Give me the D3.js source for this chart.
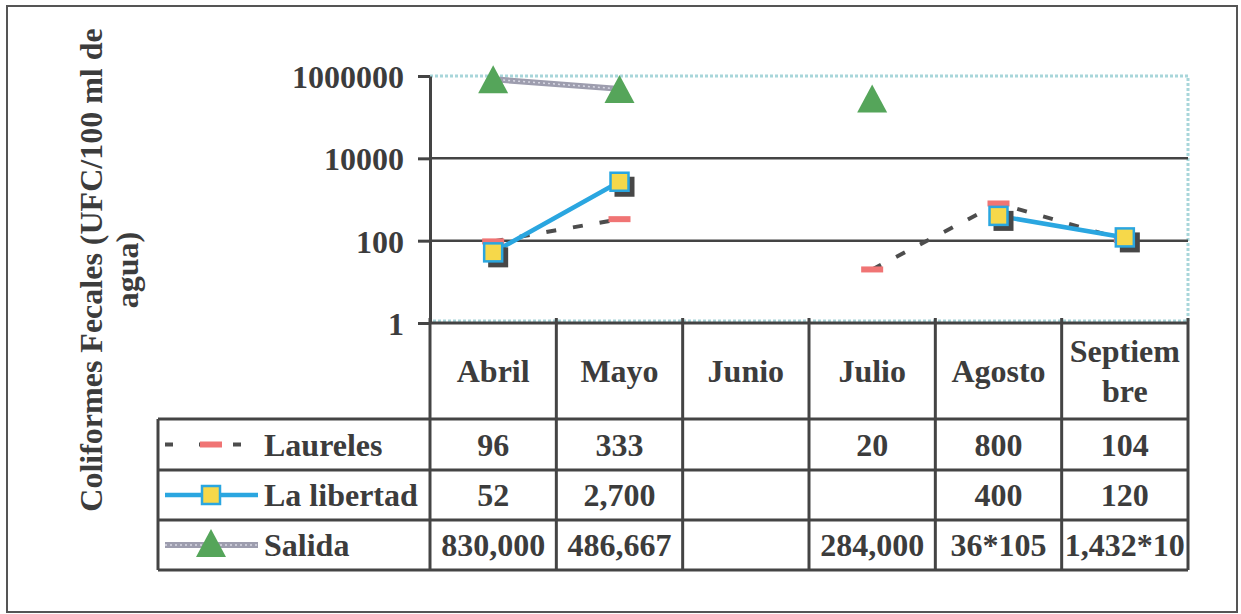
<!DOCTYPE html>
<html>
<head>
<meta charset="utf-8">
<script src="https://cdn.jsdelivr.net/npm/d3@7"></script>
<style>
  html, body { margin: 0; padding: 0; background: #ffffff; }
</style>
</head>
<body>
<svg id="chart" width="1241" height="614"></svg>
<script>
// ---- data ----
const months = ["Abril", "Mayo", "Junio", "Julio", "Agosto", "Septiembre"];
const monthHeaderLines = [["Abril"], ["Mayo"], ["Junio"], ["Julio"], ["Agosto"], ["Septiem", "bre"]];
const seriesNames = ["Laureles", "La libertad", "Salida"];
const laureles = [96, 333, null, 20, 800, 104];
const laLibertad = [52, 2700, null, null, 400, 120];
const salida = [830000, 486667, null, 284000, null, null];
const laurelesLabels = ["96", "333", "", "20", "800", "104"];
const laLibertadLabels = ["52", "2,700", "", "", "400", "120"];
const salidaLabels = ["830,000", "486,667", "", "284,000", "36*105", "1,432*10"];
const yTicks = [1, 100, 10000, 1000000];
const yTitleLines = ["Coliformes Fecales (UFC/100 ml de", "agua)"];

// ---- pick an installed serif font ----
function pickSerif() {
  const cands = ["Liberation Serif", "Tinos", "Times New Roman", "Times", "DejaVu Serif", "Noto Serif", "FreeSerif"];
  const c = document.createElement("canvas").getContext("2d");
  const s = "Coliformes 1000000 Wgijl";
  const w = (f) => { c.font = "bold 30px " + f; return c.measureText(s).width; };
  for (const f of cands) {
    const a = w(`"${f}", monospace`), b = w(`"${f}", sans-serif`);
    if (Math.abs(a - b) < 0.01) return `"${f}"`;
  }
  return "serif";
}
const FONT = pickSerif() + ", serif";
const FS = 32;

// ---- layout ----
const svg = d3.select("#chart");
const plotLeft = 430, plotRight = 1188, plotTop = 76, plotBottom = 323;
const tableLeft = 158;
const rowEdges = [323, 419, 470, 520, 570];
const ink = "#444444";
const txt = "#3c3c3c";

const x = d3.scaleBand().domain(months).range([plotLeft, plotRight]);
const y = d3.scaleLog().domain([1, 1e6]).range([plotBottom, plotTop]);
const cx = (i) => x(months[i]) + x.bandwidth() / 2;

const styleText = (sel) => sel.attr("font-family", FONT).attr("font-weight", "bold")
  .attr("font-size", FS).attr("fill", txt);

// outer frame
svg.append("rect").attr("x", 7).attr("y", 6).attr("width", 1230).attr("height", 606)
  .attr("fill", "none").attr("stroke", "#555").attr("stroke-width", 2);

// plot area dotted border
svg.append("path")
  .attr("d", `M${plotLeft},${plotTop}H${plotRight}V${plotBottom - 2}H${plotLeft}`)
  .attr("fill", "none").attr("stroke", "#a8d6da").attr("stroke-width", 3)
  .attr("stroke-dasharray", "3,2");

// gridlines
svg.append("g").selectAll("line").data(yTicks.filter(t => t !== 1 && t !== 1e6)).join("line")
  .attr("x1", plotLeft).attr("x2", plotRight)
  .attr("y1", d => y(d)).attr("y2", d => y(d))
  .attr("stroke", ink).attr("stroke-width", 2.5);

// y axis
const yAxis = svg.append("g").attr("transform", `translate(${plotLeft},0)`)
  .call(d3.axisLeft(y).tickValues(yTicks).tickFormat(d3.format("d")).tickSize(12).tickSizeOuter(0).tickPadding(14));
yAxis.select(".domain").attr("stroke", ink).attr("stroke-width", 3);
yAxis.selectAll(".tick line").attr("stroke", ink).attr("stroke-width", 3);
yAxis.selectAll(".tick text").call(styleText).attr("dy", "0.36em");

// y title
const yTitle = svg.append("text").attr("transform", "translate(0,270) rotate(-90)")
  .attr("text-anchor", "middle").call(styleText);
yTitle.selectAll("tspan").data(yTitleLines).join("tspan")
  .attr("x", 0).attr("y", (d, i) => 102 + i * 36).text(d => d);

// ---- table ----
const table = svg.append("g");
table.selectAll("line.h").data(rowEdges).join("line").attr("class", "h")
  .attr("x1", (d, i) => i === 0 ? plotLeft : tableLeft).attr("x2", plotRight)
  .attr("y1", d => d).attr("y2", d => d)
  .attr("stroke", ink).attr("stroke-width", 3);
const colEdges = months.map(m => x(m)).concat([plotRight]);
table.selectAll("line.v").data(colEdges).join("line").attr("class", "v")
  .attr("x1", d => d).attr("x2", d => d)
  .attr("y1", plotBottom - 5).attr("y2", rowEdges[4])
  .attr("stroke", ink).attr("stroke-width", 3);
table.append("line").attr("x1", tableLeft).attr("x2", tableLeft)
  .attr("y1", rowEdges[1]).attr("y2", rowEdges[4]).attr("stroke", ink).attr("stroke-width", 3);

// header text
monthHeaderLines.forEach((lines, i) => {
  const mid = (rowEdges[0] + rowEdges[1]) / 2;
  const t = table.append("text").attr("text-anchor", "middle").call(styleText);
  lines.forEach((ln, k) => {
    t.append("tspan").attr("x", cx(i))
      .attr("y", mid + (k - (lines.length - 1) / 2) * 40).attr("dy", "0.35em").text(ln);
  });
});

// row values
const rowLabels = [laurelesLabels, laLibertadLabels, salidaLabels];
rowLabels.forEach((labels, r) => {
  const mid = (rowEdges[r + 1] + rowEdges[r + 2]) / 2;
  table.append("g").selectAll("text").data(labels).join("text")
    .attr("x", (d, i) => cx(i)).attr("y", mid).attr("dy", "0.35em")
    .attr("text-anchor", "middle").call(styleText).text(d => d);
});

// legend labels
seriesNames.forEach((name, r) => {
  const mid = (rowEdges[r + 1] + rowEdges[r + 2]) / 2;
  table.append("text").attr("x", 264).attr("y", mid).attr("dy", "0.35em")
    .call(styleText).text(name);
});

// ---- marker helpers ----
const redDash = (g, px, py) => g.append("rect").attr("x", px - 11).attr("y", py - 3)
  .attr("width", 22).attr("height", 6).attr("fill", "#f07474");
const yellowSquare = (g, px, py, shadow) => {
  if (shadow) g.append("rect").attr("x", px - 5).attr("y", py - 5).attr("width", 20).attr("height", 20).attr("fill", "#474747");
  g.append("rect").attr("x", px - 9).attr("y", py - 9).attr("width", 18).attr("height", 18)
    .attr("fill", "#f6d84a").attr("stroke", "#2aa6e0").attr("stroke-width", 2.5);
};
const triangle = (g, px, py) => g.append("path")
  .attr("d", `M${px},${py - 14}L${px + 15},${py + 14}L${px - 15},${py + 14}Z`).attr("fill", "#55a55a");
const hatched = (sel) => {
  sel.attr("stroke", "#9d9dae").attr("stroke-width", 6).attr("fill", "none");
};

const line = d3.line().defined(d => d != null).x((d, i) => cx(i)).y(d => y(d));

// ---- series: Laureles ----
const gL = svg.append("g");
gL.append("path").attr("d", line(laureles)).attr("fill", "none")
  .attr("stroke", "#4d4d4d").attr("stroke-width", 4).attr("stroke-dasharray", "10,17");
laureles.forEach((v, i) => { if (v != null) redDash(gL, cx(i), y(v)); });

// ---- series: La libertad ----
const gB = svg.append("g");
gB.append("path").attr("d", line(laLibertad)).attr("fill", "none")
  .attr("stroke", "#2aa6e0").attr("stroke-width", 4.5);
laLibertad.forEach((v, i) => { if (v != null) yellowSquare(gB, cx(i), y(v), true); });

// ---- series: Salida ----
const gS = svg.append("g");
gS.append("path").attr("d", line(salida)).call(hatched);
gS.append("path").attr("d", line(salida)).attr("fill", "none")
  .attr("stroke", "#d8d8e4").attr("stroke-width", 1.5).attr("stroke-dasharray", "2,3");
salida.forEach((v, i) => { if (v != null) triangle(gS, cx(i), y(v)); });

// ---- legend symbols ----
const legX0 = 165, legX1 = 258, legC = 211;
const legY = r => (rowEdges[r + 1] + rowEdges[r + 2]) / 2;
const lg = svg.append("g");
lg.append("line").attr("x1", legX0).attr("x2", legX1).attr("y1", legY(0)).attr("y2", legY(0))
  .attr("stroke", "#4d4d4d").attr("stroke-width", 4).attr("stroke-dasharray", "8,26");
redDash(lg, legC, legY(0));
lg.append("line").attr("x1", legX0).attr("x2", legX1).attr("y1", legY(1)).attr("y2", legY(1))
  .attr("stroke", "#2aa6e0").attr("stroke-width", 4.5);
yellowSquare(lg, legC, legY(1), false);
lg.append("line").attr("x1", legX0).attr("x2", legX1).attr("y1", legY(2)).attr("y2", legY(2)).call(hatched);
lg.append("line").attr("x1", legX0).attr("x2", legX1).attr("y1", legY(2)).attr("y2", legY(2))
  .attr("stroke", "#d8d8e4").attr("stroke-width", 1.5).attr("stroke-dasharray", "2,3");
triangle(lg, legC, legY(2) - 2);
</script>
</body>
</html>
